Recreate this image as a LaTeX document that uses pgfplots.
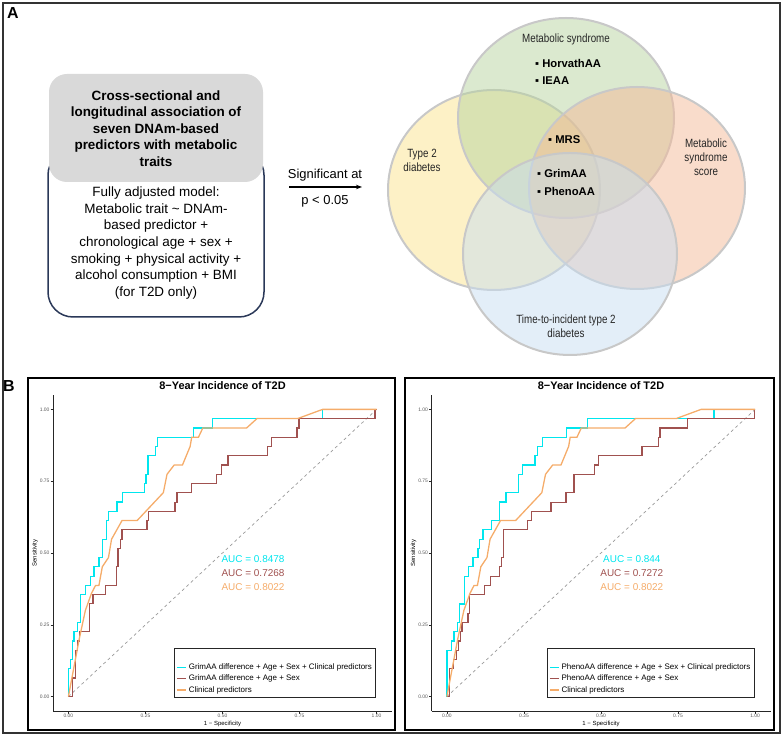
\documentclass[border=0pt]{standalone}
\usepackage{pgfplots}
\pgfplotsset{compat=1.18}
\usepackage{fontspec}
\setmainfont{Liberation Sans}
\usetikzlibrary{arrows.meta}

\definecolor{roccyan}{HTML}{00E6EE}
\definecolor{rocbrown}{HTML}{A0514F}
\definecolor{rocorange}{HTML}{F5AC6A}
\definecolor{boxgray}{HTML}{D9D9D9}
\definecolor{navy}{HTML}{2A3858}
\definecolor{vyellow}{HTML}{FBE38D}
\definecolor{vgreen}{HTML}{B7D39F}
\definecolor{vorange}{HTML}{F3B997}
\definecolor{vblue}{HTML}{C7DDF1}
\definecolor{vborder}{HTML}{C8C8C8}

\pgfplotsset{
  rocax/.style={
    scale only axis, width=339bp, height=316bp,
    xmin=-0.05, xmax=1.05, ymin=-0.05, ymax=1.05,
    axis x line=bottom, axis y line=left,
    axis line style={-, line width=0.9bp, black!85},
    xtick={0,0.25,0.5,0.75,1}, ytick={0,0.25,0.5,0.75,1},
    xticklabels={0.00,0.25,0.50,0.75,1.00},
    yticklabels={0.00,0.25,0.50,0.75,1.00},
    tick align=outside, major tick length=2.5bp,
    tick style={black!85, line width=0.5bp},
    tick label style={font=\fontsize{5}{6}\selectfont, text=black!65, inner sep=0.8bp},
    every axis title/.style={at={(0.5,1)}, anchor=center, yshift=9bp,
      font=\bfseries\fontsize{11}{13}\selectfont},
    every axis x label/.style={at={(axis description cs:0.5,-0.042)},
      anchor=center, font=\fontsize{6}{7}\selectfont},
    every axis y label/.style={at={(axis description cs:-0.053,0.5)},
      rotate=90, anchor=center, font=\fontsize{6}{7}\selectfont},
    title={8\textminus Year Incidence of T2D},
    xlabel={1 \textminus\ Specificity}, ylabel={Sensitivity},
    legend style={at={(axis cs:0.999,-0.003)}, anchor=south east,
      draw=black!85, line width=0.8bp, font=\fontsize{8}{9.5}\selectfont,
      cells={anchor=west}, inner xsep=2bp, inner ysep=1.5bp, row sep=0pt},
    legend image code/.code={\draw[##1, line width=1.5bp] (0bp,0bp) -- (9bp,0bp);},
  },
  rocA/.style={color=roccyan, line width=1.4bp, mark=none},
  rocB/.style={color=rocbrown, line width=1.3bp, mark=none},
  rocC/.style={color=rocorange, line width=1.3bp, mark=none},
  rocD/.style={color=black!40, dashed, line width=0.7bp},
}

\begin{document}
\begin{tikzpicture}
\path[use as bounding box] (0,0) rectangle (784bp,736bp);

\begin{scope}[x=1bp, y=-1bp, shift={(0,736bp)}]
  % frames
  \draw[black!80, line width=1.5bp] (3,3) rectangle (780,733);
  \draw[black, line width=1.8bp] (28,378) rectangle (395,730);
  \draw[black, line width=1.8bp] (405,378) rectangle (774,730);
  \node[font=\bfseries\fontsize{16}{18}\selectfont] at (13,13) {A};
  \node[font=\bfseries\fontsize{16}{18}\selectfont] at (9,386) {B};

  % left boxes
  \draw[navy, line width=1.5bp, fill=white, rounded corners=25bp] (48,150) rectangle (264,317);
  \fill[boxgray, rounded corners=18bp] (49,74) rectangle (263,182);
  \node[align=center, font=\bfseries\fontsize{13.5}{16.7}\selectfont] at (156,128.5)
    {Cross-sectional and\\longitudinal association of\\seven DNAm-based\\predictors with metabolic\\traits};
  \node[align=center, font=\fontsize{13.5}{16.7}\selectfont] at (156,243)
    {Fully adjusted model:\\Metabolic trait \textasciitilde\ DNAm-\\based predictor +\\chronological age + sex +\\smoking + physical activity +\\alcohol consumption + BMI\\(for T2D only)};

  % arrow
  \draw[line width=1.3bp, -{Stealth[length=6bp,width=4.5bp]}] (289,187) -- (362,187);
  \node[font=\fontsize{13}{15}\selectfont] at (325,175) {Significant at};
  \node[font=\fontsize{13}{15}\selectfont] at (325,201) {p < 0.05};

  % Venn
  \draw[vborder, line width=2bp, fill=vyellow, fill opacity=0.5] (494,190) ellipse [x radius=106, y radius=100];
  \draw[vborder, line width=2bp, fill=vgreen, fill opacity=0.5] (566,118) ellipse [x radius=108, y radius=100];
  \draw[vborder, line width=2bp, fill=vorange, fill opacity=0.5] (637,188) ellipse [x radius=108, y radius=101];
  \draw[vborder, line width=2bp, fill=vblue, fill opacity=0.5] (570,254) ellipse [x radius=107, y radius=101];

  \begin{scope}[every node/.style={transform shape, xscale=0.82, align=center,
      font=\fontsize{12}{14}\selectfont, text=black!85}]
    \node at (566,39) {Metabolic syndrome};
    \node at (422,160) {Type 2\\diabetes};
    \node at (706,157) {Metabolic\\syndrome\\score};
    \node at (566,326.5) {Time-to-incident type 2\\diabetes};
  \end{scope}
  \begin{scope}[every node/.style={anchor=west, inner sep=0pt,
      font=\bfseries\fontsize{11.3}{13}\selectfont}]
    \node at (535,63) {▪ HorvathAA};
    \node at (535,81) {▪ IEAA};
    \node at (548,140) {▪ MRS};
    \node at (537,173) {▪ GrimAA};
    \node at (537,191) {▪ PhenoAA};
  \end{scope}
\end{scope}

% ---- left ROC ----
\begin{axis}[rocax, at={(53bp,25bp)}, anchor=south west,
  legend entries={\strut, GrimAA difference + Age + Sex + Clinical predictors,
    GrimAA difference + Age + Sex, Clinical predictors}]
\addlegendimage{empty legend}
\addlegendimage{rocA}
\addlegendimage{rocB}
\addlegendimage{rocC}
\addplot[rocD, forget plot] coordinates {(0,0) (1,1)};
\addplot[rocA, forget plot] coordinates {
(0,0) (0,0.097) (0.006,0.097) (0.006,0.129) (0.013,0.129) (0.013,0.194)
(0.018,0.194) (0.018,0.226) (0.030,0.226) (0.030,0.258) (0.040,0.258)
(0.040,0.355) (0.056,0.355) (0.056,0.387) (0.072,0.387) (0.072,0.419)
(0.083,0.419) (0.083,0.452) (0.099,0.452) (0.099,0.484) (0.110,0.484)
(0.110,0.548) (0.124,0.548) (0.124,0.613) (0.131,0.613) (0.131,0.645)
(0.158,0.645) (0.158,0.677) (0.176,0.677) (0.176,0.710) (0.246,0.710)
(0.246,0.742) (0.252,0.742) (0.252,0.774) (0.258,0.774) (0.258,0.839)
(0.282,0.839) (0.282,0.871) (0.290,0.871) (0.290,0.903) (0.405,0.903)
(0.405,0.935) (0.468,0.935) (0.468,0.968) (0.825,0.968) (0.825,1) (1,1)};
\addplot[rocB, forget plot] coordinates {
(0,0) (0.013,0) (0.013,0.065) (0.022,0.065) (0.022,0.161) (0.029,0.161)
(0.029,0.194) (0.037,0.194) (0.037,0.226) (0.069,0.226) (0.069,0.323)
(0.080,0.323) (0.080,0.355) (0.121,0.355) (0.121,0.387) (0.155,0.387)
(0.155,0.452) (0.161,0.452) (0.161,0.516) (0.169,0.516) (0.169,0.548)
(0.174,0.548) (0.174,0.581) (0.255,0.581) (0.255,0.613) (0.260,0.613)
(0.260,0.645) (0.346,0.645) (0.346,0.677) (0.352,0.677) (0.352,0.710)
(0.400,0.710) (0.400,0.742) (0.481,0.742) (0.481,0.774) (0.497,0.774)
(0.497,0.806) (0.518,0.806) (0.518,0.839) (0.647,0.839) (0.647,0.871)
(0.658,0.871) (0.658,0.903) (0.742,0.903) (0.742,0.935) (0.748,0.935)
(0.748,0.968) (0.995,0.968) (0.995,1) (1,1)};
\addplot[rocC, forget plot] coordinates {
(0,0) (0.035,0.20) (0.055,0.30) (0.075,0.36) (0.088,0.387) (0.099,0.387)
(0.110,0.452) (0.130,0.484) (0.140,0.548) (0.174,0.613) (0.223,0.613)
(0.308,0.710) (0.320,0.774) (0.343,0.806) (0.370,0.806) (0.395,0.871)
(0.400,0.903) (0.422,0.903) (0.436,0.935) (0.578,0.935) (0.612,0.968)
(0.744,0.968) (0.825,1) (1,1)};
\node[text=roccyan, font=\fontsize{10}{12}\selectfont] at (axis cs:0.599,0.479) {AUC = 0.8478};
\node[text=rocbrown, font=\fontsize{10}{12}\selectfont] at (axis cs:0.599,0.430) {AUC = 0.7268};
\node[text=rocorange, font=\fontsize{10}{12}\selectfont] at (axis cs:0.599,0.381) {AUC = 0.8022};
\end{axis}

% ---- right ROC ----
\begin{axis}[rocax, at={(431.5bp,25bp)}, anchor=south west,
  legend entries={\strut, PhenoAA difference + Age + Sex + Clinical predictors,
    PhenoAA difference + Age + Sex, Clinical predictors}]
\addlegendimage{empty legend}
\addlegendimage{rocA}
\addlegendimage{rocB}
\addlegendimage{rocC}
\addplot[rocD, forget plot] coordinates {(0,0) (1,1)};
\addplot[rocA, forget plot] coordinates {
(0,0) (0,0.161) (0.014,0.161) (0.014,0.194) (0.023,0.194) (0.023,0.226)
(0.034,0.226) (0.034,0.258) (0.041,0.258) (0.041,0.323) (0.057,0.323)
(0.057,0.419) (0.071,0.419) (0.071,0.452) (0.084,0.452) (0.084,0.484)
(0.101,0.484) (0.101,0.516) (0.106,0.516) (0.106,0.548) (0.117,0.548)
(0.117,0.581) (0.144,0.581) (0.144,0.613) (0.171,0.613) (0.171,0.677)
(0.192,0.677) (0.192,0.710) (0.232,0.710) (0.232,0.774) (0.246,0.774)
(0.246,0.806) (0.286,0.806) (0.286,0.839) (0.293,0.839) (0.293,0.871)
(0.311,0.871) (0.311,0.903) (0.389,0.903) (0.389,0.935) (0.457,0.935)
(0.457,0.968) (0.867,0.968) (0.867,1) (1,1)};
\addplot[rocB, forget plot] coordinates {
(0,0) (0.009,0) (0.009,0.097) (0.022,0.097) (0.022,0.129) (0.032,0.129)
(0.032,0.161) (0.038,0.161) (0.038,0.194) (0.043,0.194) (0.043,0.226)
(0.049,0.226) (0.049,0.258) (0.068,0.258) (0.068,0.290) (0.074,0.290)
(0.074,0.355) (0.121,0.355) (0.121,0.387) (0.142,0.387) (0.142,0.419)
(0.171,0.419) (0.171,0.452) (0.176,0.452) (0.176,0.484) (0.184,0.484)
(0.184,0.581) (0.261,0.581) (0.261,0.613) (0.274,0.613) (0.274,0.645)
(0.338,0.645) (0.338,0.677) (0.386,0.677) (0.386,0.710) (0.412,0.710)
(0.412,0.774) (0.478,0.774) (0.478,0.806) (0.491,0.806) (0.491,0.839)
(0.633,0.839) (0.633,0.871) (0.686,0.871) (0.686,0.903) (0.691,0.903)
(0.691,0.935) (0.780,0.935) (0.780,0.968) (0.998,0.968) (0.998,1) (1,1)};
\addplot[rocC, forget plot] coordinates {
(0,0) (0.035,0.20) (0.055,0.30) (0.075,0.36) (0.088,0.387) (0.099,0.387)
(0.110,0.452) (0.130,0.484) (0.140,0.548) (0.174,0.613) (0.223,0.613)
(0.308,0.710) (0.320,0.774) (0.343,0.806) (0.370,0.806) (0.395,0.871)
(0.400,0.903) (0.422,0.903) (0.436,0.935) (0.578,0.935) (0.612,0.968)
(0.744,0.968) (0.825,1) (1,1)};
\node[text=roccyan, font=\fontsize{10}{12}\selectfont] at (axis cs:0.600,0.479) {AUC = 0.844};
\node[text=rocbrown, font=\fontsize{10}{12}\selectfont] at (axis cs:0.600,0.430) {AUC = 0.7272};
\node[text=rocorange, font=\fontsize{10}{12}\selectfont] at (axis cs:0.600,0.381) {AUC = 0.8022};
\end{axis}
\end{tikzpicture}
\end{document}
